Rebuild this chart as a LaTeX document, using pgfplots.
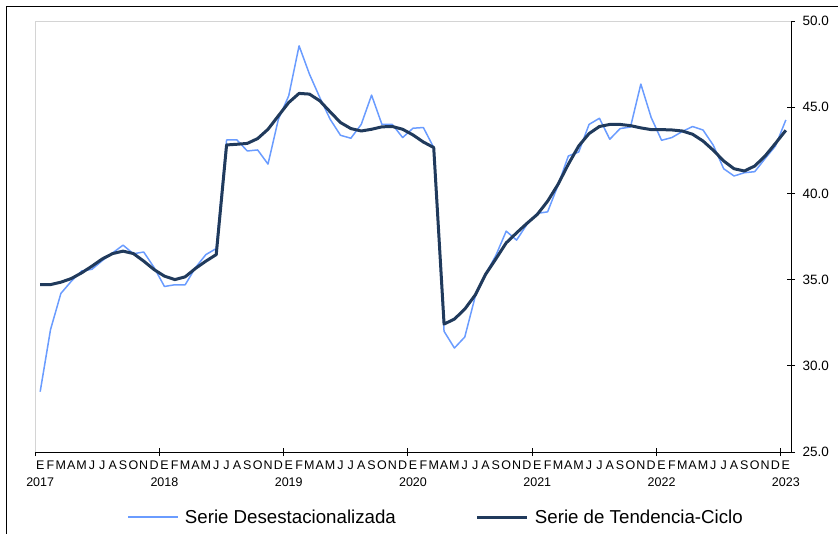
\documentclass[border=0pt]{standalone}
\usepackage{fontspec}
\setmainfont{Liberation Sans}
\usepackage{pgfplots}
\usepackage{pgfplotstable}
\pgfplotsset{compat=1.18}

\definecolor{desest}{HTML}{6A9CFF}
\definecolor{tendencia}{HTML}{203A5C}
\definecolor{marco}{HTML}{D4D4D4}

% mes (0 = ene 2017), serie desestacionalizada, tendencia-ciclo
\pgfplotstableread{
m  des    tend
0  28.50  34.71
1  32.10  34.71
2  34.20  34.85
3  34.90  35.06
4  35.50  35.39
5  35.60  35.78
6  36.10  36.20
7  36.55  36.51
8  37.00  36.65
9  36.50  36.51
10 36.60  36.07
11 35.70  35.58
12 34.60  35.20
13 34.70  35.00
14 34.70  35.16
15 35.70  35.65
16 36.45  36.07
17 36.80  36.45
18 43.10  42.81
19 43.10  42.85
20 42.46  42.90
21 42.52  43.18
22 41.70  43.72
23 44.30  44.50
24 45.66  45.27
25 48.56  45.80
26 46.92  45.76
27 45.56  45.37
28 44.30  44.73
29 43.37  44.11
30 43.20  43.76
31 44.00  43.62
32 45.70  43.72
33 44.00  43.86
34 44.00  43.88
35 43.24  43.72
36 43.78  43.39
37 43.82  42.98
38 42.66  42.66
39 32.00  32.42
40 31.03  32.71
41 31.67  33.29
42 34.00  34.10
43 35.30  35.30
44 36.40  36.20
45 37.81  37.13
46 37.29  37.71
47 38.20  38.26
48 38.84  38.78
49 38.93  39.55
50 40.47  40.52
51 42.17  41.69
52 42.40  42.75
53 44.00  43.47
54 44.36  43.88
55 43.14  44.00
56 43.76  44.00
57 43.85  43.93
58 46.34  43.80
59 44.40  43.70
60 43.08  43.70
61 43.24  43.68
62 43.59  43.62
63 43.88  43.43
64 43.68  43.04
65 42.79  42.50
66 41.43  41.88
67 41.01  41.43
68 41.20  41.30
69 41.26  41.59
70 42.02  42.17
71 42.75  42.90
72 44.26  43.66
}\datos

\begin{document}
\begin{tikzpicture}[x=1pt,y=1pt]
\useasboundingbox (0,0) rectangle (838,533);
\draw[line width=1.6pt] (6.5,-20) -- (6.5,526.5) -- (870,526.5);
\begin{axis}[
  at={(35pt,81pt)}, anchor=south west,
  scale only axis, width=756pt, height=431pt,
  xmin=-0.5, xmax=72.5, ymin=25, ymax=50,
  axis x line*=bottom, axis y line*=right,
  axis line style={black, line width=0.9pt, -},
  tick align=center, major tick length=0pt, minor tick length=8pt,
  every tick/.style={black, line width=0.9pt},
  xtick={0,...,72},
  minor xtick={-0.5,11.5,...,71.5},
  xticklabels={{E\\2017},F,M,A,M,J,J,A,S,O,N,D,
               {E\\2018},F,M,A,M,J,J,A,S,O,N,D,
               {E\\2019},F,M,A,M,J,J,A,S,O,N,D,
               {E\\2020},F,M,A,M,J,J,A,S,O,N,D,
               {E\\2021},F,M,A,M,J,J,A,S,O,N,D,
               {E\\2022},F,M,A,M,J,J,A,S,O,N,D,
               {E\\2023}},
  xticklabel style={align=center, anchor=north, inner sep=0pt, yshift=-9pt,
    font=\fontsize{12.5}{17}\selectfont},
  ytick={25,30,...,50},
  minor ytick={25,30,...,50},
  yticklabel pos=right,
  yticklabel style={anchor=west, xshift=8pt, font=\fontsize{13.5}{16}\selectfont,
    /pgf/number format/.cd, fixed, fixed zerofill, precision=1},
  /pgf/number format/assume math mode=true,
  legend columns=2,
  legend style={draw=none, fill=none, at={(axis description cs:0.118,-0.151)},
    anchor=west, font=\fontsize{18.7}{21}\selectfont,
    /tikz/every even column/.append style={column sep=78pt}},
  legend image code/.code={\draw[#1] (0pt,0pt) -- (50pt,0pt); \path (54pt,0pt);},
  clip=false,
]
\draw[marco, line width=0.9pt] (rel axis cs:0,0) -- (rel axis cs:0,1) -- (rel axis cs:1,1);
\addplot[desest, line width=1.5pt, line join=round] table[x=m, y=des] {\datos};
\addlegendentry{Serie Desestacionalizada}
\addplot[tendencia, line width=3pt, line join=round] table[x=m, y=tend] {\datos};
\addlegendentry{Serie de Tendencia-Ciclo}
\end{axis}
\end{tikzpicture}
\end{document}
